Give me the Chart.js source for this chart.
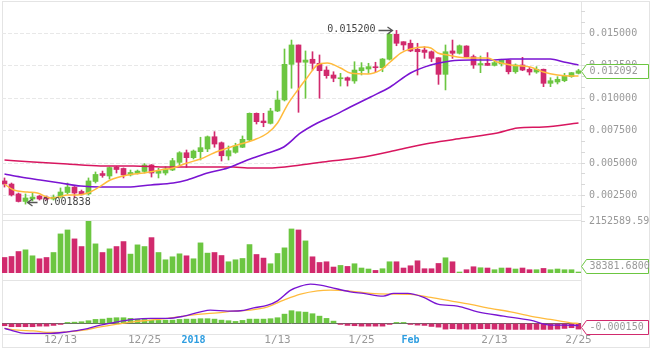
<!DOCTYPE html>
<html>
<head>
<meta charset="utf-8">
<script src="https://cdn.jsdelivr.net/npm/chart.js@4.4.1/dist/chart.umd.min.js"></script>
<style>
  html, body { margin: 0; padding: 0; background: #fff; }
  #wrap { position: relative; width: 659px; height: 350px; overflow: hidden; }
  canvas { position: absolute; left: 0; }
  .ln { position: absolute; background: #e4e4e4; }
</style>
</head>
<body>
<div id="wrap">
  <div class="ln" style="left:2px;top:1px;width:648px;height:1px"></div>
  <div class="ln" style="left:2px;top:1px;width:1px;height:347px"></div>
  <div class="ln" style="left:649px;top:1px;width:1px;height:347px"></div>
  <div class="ln" style="left:2px;top:347px;width:648px;height:1px"></div>
  <div class="ln" style="left:2px;top:214px;width:580px;height:1px"></div>
  <div class="ln" style="left:2px;top:220px;width:580px;height:1px"></div>
  <div class="ln" style="left:2px;top:280px;width:580px;height:1px"></div>
  <div class="ln" style="left:2px;top:334px;width:580px;height:1px"></div>
  <div class="ln" style="left:581px;top:1px;width:1px;height:334px"></div>
  <canvas id="mainChart" width="659" height="216" style="top:0px"></canvas>
  <canvas id="volChart" width="659" height="60" style="top:216px"></canvas>
  <canvas id="macdChart" width="659" height="74" style="top:276px"></canvas>
</div>
<script>
// daily candles, 12/5 .. 2/25
const opens = [
  0.00362, 0.00338, 0.00262, 0.00204, 0.00223, 0.00246, 0.00238, 0.00223, 0.00238, 0.00273,
  0.00315, 0.00281, 0.00262, 0.00358, 0.00419, 0.00400, 0.00469, 0.00458, 0.00408, 0.00421,
  0.00435, 0.00485, 0.00421, 0.00423, 0.00446, 0.00505, 0.00579, 0.00541, 0.00587, 0.00608,
  0.00702, 0.00656, 0.00554, 0.00582, 0.00621, 0.00677, 0.00882, 0.00823, 0.00805, 0.00900,
  0.00985, 0.01259, 0.01408, 0.01275, 0.01298, 0.01267, 0.01215, 0.01177, 0.01148, 0.01156,
  0.01131, 0.01210, 0.01223, 0.01238, 0.01233, 0.01298, 0.01490, 0.01433, 0.01421, 0.01375,
  0.01369, 0.01356, 0.01310, 0.01182, 0.01362, 0.01344, 0.01400, 0.01318, 0.01254, 0.01267,
  0.01251, 0.01262, 0.01292, 0.01202, 0.01254, 0.01221, 0.01200, 0.01221, 0.01113, 0.01123,
  0.01133, 0.01164, 0.01190
];
const closes = [
  0.00338, 0.00254, 0.00204, 0.00231, 0.00238, 0.00223, 0.00223, 0.00238, 0.00277, 0.00315,
  0.00269, 0.00262, 0.00362, 0.00412, 0.00404, 0.00465, 0.00450, 0.00408, 0.00427, 0.00438,
  0.00485, 0.00423, 0.00438, 0.00454, 0.00518, 0.00579, 0.00541, 0.00592, 0.00618, 0.00702,
  0.00646, 0.00556, 0.00595, 0.00631, 0.00682, 0.00882, 0.00818, 0.00810, 0.00900, 0.00985,
  0.01259, 0.01408, 0.01275, 0.01292, 0.01267, 0.01210, 0.01172, 0.01152, 0.01154, 0.01136,
  0.01215, 0.01233, 0.01241, 0.01233, 0.01300, 0.01490, 0.01421, 0.01408, 0.01362, 0.01356,
  0.01351, 0.01305, 0.01182, 0.01356, 0.01344, 0.01402, 0.01318, 0.01254, 0.01265, 0.01251,
  0.01272, 0.01292, 0.01202, 0.01254, 0.01215, 0.01200, 0.01221, 0.01113, 0.01133, 0.01144,
  0.01169, 0.01195, 0.012092
];
const highs = [
  0.00385, 0.00346, 0.00269, 0.00262, 0.00269, 0.00250, 0.00246, 0.00254, 0.00308, 0.00346,
  0.00319, 0.00292, 0.00385, 0.00431, 0.00438, 0.00469, 0.00473, 0.00462, 0.00446, 0.00446,
  0.00496, 0.00488, 0.00459, 0.00472, 0.00536, 0.00587, 0.00600, 0.00600, 0.00698, 0.00708,
  0.00741, 0.00662, 0.00631, 0.00652, 0.00708, 0.00885, 0.00885, 0.00882, 0.00921, 0.01054,
  0.01377, 0.01446, 0.01408, 0.01362, 0.01356, 0.01331, 0.01241, 0.01202, 0.01190, 0.01162,
  0.01279, 0.01272, 0.01267, 0.01275, 0.01304, 0.01498, 0.01520, 0.01433, 0.01446, 0.01421,
  0.01395, 0.01362, 0.01310, 0.01408, 0.01446, 0.01408, 0.01402, 0.01331, 0.01323, 0.01349,
  0.01292, 0.01298, 0.01296, 0.01262, 0.01313, 0.01236, 0.01241, 0.01223, 0.01156, 0.01164,
  0.01190, 0.01196, 0.01221
];
const lows = [
  0.00315, 0.00246, 0.00200, 0.001838, 0.00208, 0.00215, 0.00215, 0.00215, 0.00231, 0.00262,
  0.00231, 0.00254, 0.00254, 0.00346, 0.00390, 0.00377, 0.00423, 0.00385, 0.00400, 0.00415,
  0.00423, 0.00392, 0.00385, 0.00408, 0.00441, 0.00485, 0.00467, 0.00531, 0.00523, 0.00587,
  0.00621, 0.00515, 0.00523, 0.00575, 0.00618, 0.00672, 0.00800, 0.00779, 0.00800, 0.00895,
  0.00977, 0.01075, 0.00890, 0.00998, 0.01215, 0.00998, 0.01152, 0.01125, 0.01092, 0.01092,
  0.01113, 0.01177, 0.01190, 0.01202, 0.01202, 0.01292, 0.01402, 0.01369, 0.01356, 0.01177,
  0.01305, 0.01279, 0.01105, 0.01062, 0.01305, 0.01338, 0.01315, 0.01228, 0.01195, 0.01251,
  0.01246, 0.01246, 0.01185, 0.01190, 0.01210, 0.01177, 0.01190, 0.01087, 0.01087, 0.01108,
  0.01125, 0.01159, 0.01185
];
const volumes = [
  642000, 683000, 889000, 959000, 712000, 589000, 642000, 848000, 1618000, 1782000,
  1412000, 1095000, 2152589.59, 1206000, 848000, 1000000, 1095000, 1301000, 782000, 1165000,
  1095000, 1465000, 848000, 547000, 671000, 794000, 712000, 589000, 1247000, 823000,
  848000, 724000, 465000, 547000, 601000, 1177000, 766000, 617000, 383000, 807000,
  1041000, 1823000, 1782000, 1329000, 671000, 436000, 465000, 247000, 313000, 272000,
  383000, 206000, 165000, 107000, 177000, 465000, 465000, 206000, 300000, 506000,
  177000, 177000, 395000, 630000, 465000, 25000, 136000, 259000, 218000, 206000,
  136000, 206000, 206000, 165000, 206000, 136000, 136000, 189000, 136000, 165000,
  136000, 136000, 38381.68
];
const macdHist = [
  -0.000061, -0.000087, -0.000087, -0.000087, -0.000087, -0.000072, -0.000072, -0.000053, -0.000027, 0.000019,
  0.000034, 0.000045, 0.000072, 0.000106, 0.000114, 0.000140, 0.000151, 0.000151, 0.000133, 0.000114,
  0.000106, 0.000087, 0.000080, 0.000087, 0.000087, 0.000106, 0.000114, 0.000114, 0.000125, 0.000125,
  0.000114, 0.000087, 0.000072, 0.000053, 0.000080, 0.000114, 0.000114, 0.000114, 0.000125, 0.000151,
  0.000246, 0.000337, 0.000310, 0.000299, 0.000257, 0.000193, 0.000133, 0.000061, -0.000013, -0.000053,
  -0.000061, -0.000072, -0.000072, -0.000072, -0.000072, -0.000013, 0.000008, 0.000008, -0.000027, -0.000045,
  -0.000053, -0.000080, -0.000098, -0.000151, -0.000140, -0.000151, -0.000151, -0.000151, -0.000140, -0.000140,
  -0.000151, -0.000159, -0.000159, -0.000159, -0.000159, -0.000159, -0.000159, -0.000159, -0.000159, -0.000151,
  -0.000133, -0.000114, -0.000150
];

// moving averages: [day index, value]
const maFast = [
  [0, 0.00338], [1.3, 0.00292], [3.3, 0.00277], [4.7, 0.00269], [6.6, 0.00231], [7.7, 0.00238],
  [9, 0.00254], [10.4, 0.00254], [11.9, 0.00269], [13.3, 0.00308], [15.1, 0.00369], [17.6, 0.00408],
  [19.9, 0.00423], [22.3, 0.00446], [24.1, 0.00462], [26.1, 0.005], [28, 0.00531], [29.9, 0.00577],
  [31.9, 0.00615], [33.7, 0.00646], [35.6, 0.00677], [37.6, 0.00731], [39, 0.00808], [40.4, 0.00946],
  [41.9, 0.01062], [43.3, 0.01162], [44.7, 0.01254], [46.1, 0.01269], [48, 0.01231], [49.4, 0.01192],
  [51.9, 0.01185], [53.7, 0.01215], [55.1, 0.01277], [56.6, 0.01346], [58, 0.01377], [59.9, 0.01392],
  [60.9, 0.01385], [61.9, 0.01346], [63.3, 0.01331], [64.7, 0.01315], [66.6, 0.01308], [69, 0.01308],
  [70.4, 0.01277], [72.3, 0.01254], [75.1, 0.01238], [77, 0.012], [79, 0.01177], [80.9, 0.01169], [82, 0.01169]
];
const maMid = [
  [0, 0.00415], [2.3, 0.00392], [5.1, 0.00369], [8, 0.00346], [10.9, 0.00323], [13.7, 0.00315],
  [17.6, 0.00315], [20.9, 0.00331], [24.1, 0.00346], [26.1, 0.00369], [29, 0.00423], [31.9, 0.00462],
  [34.7, 0.00523], [37.6, 0.00577], [39.9, 0.00623], [42.3, 0.00731], [44.7, 0.00808], [46.6, 0.00854],
  [49.4, 0.00931], [52.3, 0.01008], [55.1, 0.01085], [58, 0.01192], [60.9, 0.01254], [63.7, 0.01285],
  [66.6, 0.01292], [69.4, 0.01292], [72.3, 0.013], [75.1, 0.013], [78, 0.013], [79.9, 0.01277], [82, 0.01254]
];
const maSlow = [
  [0, 0.00523], [4.1, 0.00508], [9, 0.00492], [13.7, 0.00477], [18.4, 0.00477], [23.3, 0.00469],
  [28, 0.00469], [32.7, 0.00469], [34.7, 0.00462], [37.6, 0.00462], [42.3, 0.00485], [46.6, 0.00515],
  [51.3, 0.00546], [56.1, 0.006], [60.9, 0.00654], [65.6, 0.00692], [70.4, 0.00731], [73.3, 0.00769],
  [77, 0.00777], [82, 0.00808]
];
const macdDif = [
  [0, -0.000133], [0.9, -0.000178], [2.3, -0.000249], [4.1, -0.000265], [6.6, -0.000265], [9, -0.000223],
  [11.3, -0.000159], [13.7, -0.000045], [16.1, 0.000042], [18.4, 0.000106], [20.9, 0.000133], [23.3, 0.000133],
  [25.6, 0.000193], [28, 0.000307], [29.4, 0.000352], [31.9, 0.000326], [33.7, 0.000334], [35.6, 0.000413],
  [37.6, 0.000485], [39, 0.000599], [40.9, 0.000882], [42.3, 0.000988], [43.7, 0.001041], [45.1, 0.001015],
  [46.6, 0.000954], [49.4, 0.000837], [51.3, 0.000795], [54.1, 0.000723], [55.6, 0.000795], [57.6, 0.000795],
  [59.9, 0.000689], [61.9, 0.000511], [64.7, 0.000458], [67.6, 0.000307], [71.3, 0.000193], [75.1, 0.000087],
  [78, -0.000045], [79.9, -0.000045], [82, -0.000053]
];
const macdDea = [
  [0, -0.000133], [1.9, -0.000178], [4.1, -0.000196], [6.6, -0.000239], [9, -0.000223], [11.3, -0.000178],
  [13.7, -0.00009], [16.1, -0.000019], [18.4, 0.000042], [20.9, 0.000087], [23.3, 0.000133], [25.6, 0.000193],
  [28, 0.000246], [30.4, 0.000281], [32.7, 0.000326], [35.1, 0.000352], [37.6, 0.00044], [39.9, 0.000617],
  [42.3, 0.000776], [44.7, 0.000864], [46.6, 0.000882], [49.4, 0.000856], [52.3, 0.000795], [55.1, 0.000776],
  [58, 0.000769], [60.9, 0.000689], [63.7, 0.000599], [66.6, 0.000504], [69.4, 0.000398], [72.3, 0.000307],
  [75.1, 0.000193], [78, 0.000106], [80.9, 0.000016], [82, 0]
];

const priceTicks = [0.0025, 0.005, 0.0075, 0.01, 0.0125, 0.015];
const dateTickIdx = [8, 20, 27, 39, 51, 58, 70, 82];
const dateLabels = ['12/13', '12/25', '2018', '1/13', '1/25', 'Feb', '2/13', '2/25'];
const highlightLabels = ['2018', 'Feb'];

const GREEN = '#6cc641';
const RED = '#d12a6d';
const YELLOW = '#ffbb3d';
const PURPLE = '#7a14d2';
const CRIMSON = '#d8165f';
const MONO = '"DejaVu Sans Mono", monospace';

Chart.defaults.font.family = MONO;
Chart.defaults.font.size = 10;

const X_MIN = -2.5 / 7;
const X_MAX = X_MIN + 579 / 7;
const AXIS_W = 78;

const dayIdx = opens.map((_, i) => i);
const candleColors = dayIdx.map((i) => (closes[i] >= opens[i] ? GREEN : RED));
const toPoints = (pairs) => pairs.map(([x, y]) => ({ x, y }));

const hiddenX = { type: 'linear', min: X_MIN, max: X_MAX, offset: false, display: false };
const baseOptions = {
  responsive: false,
  animation: false,
  devicePixelRatio: 1,
  plugins: { legend: { display: false }, tooltip: { enabled: false } },
};

// right-hand axis of fixed width, no extra label padding above/below
function fitRightAxis(scale) {
  scale.width = AXIS_W;
  scale.paddingTop = 0;
  scale.paddingBottom = 0;
}

function lineSet(pairs, color, width) {
  return {
    type: 'line',
    data: toPoints(pairs),
    borderColor: color,
    borderWidth: width,
    pointRadius: 0,
    cubicInterpolationMode: 'monotone',
    order: 0,
  };
}

function valueTag(id, getValue, getText, color) {
  return {
    id,
    afterDraw(chart) {
      const { ctx, chartArea, scales } = chart;
      let y = scales.y.getPixelForValue(getValue());
      y = Math.min(Math.max(y, chartArea.top + 7), chartArea.bottom - 7);
      y = Math.round(y) + 0.5;
      const x0 = chartArea.right + 0.5;
      const x1 = x0 + 5;
      const x2 = 648.5;
      const h = 7;
      ctx.save();
      ctx.beginPath();
      ctx.moveTo(x0, y);
      ctx.lineTo(x1, y - h);
      ctx.lineTo(x2, y - h);
      ctx.lineTo(x2, y + h);
      ctx.lineTo(x1, y + h);
      ctx.closePath();
      ctx.fillStyle = '#fff';
      ctx.fill();
      ctx.strokeStyle = color;
      ctx.lineWidth = 1;
      ctx.stroke();
      ctx.fillStyle = '#999';
      ctx.font = '10px ' + MONO;
      ctx.textBaseline = 'middle';
      ctx.fillText(getText(), x1 + 3, y);
      ctx.restore();
    },
  };
}

function drawArrow(ctx, tail, tip, y) {
  const dir = tip > tail ? 1 : -1;
  ctx.beginPath();
  ctx.moveTo(tail, y);
  ctx.lineTo(tip, y);
  ctx.moveTo(tip - dir * 5, y - 3.5);
  ctx.lineTo(tip, y);
  ctx.lineTo(tip - dir * 5, y + 3.5);
  ctx.stroke();
}

const extremeLabels = {
  id: 'extremeLabels',
  afterDatasetsDraw(chart) {
    const { ctx, scales: { x, y } } = chart;
    const hiI = highs.indexOf(Math.max(...highs));
    const loI = lows.indexOf(Math.min(...lows));
    ctx.save();
    ctx.font = '10px ' + MONO;
    ctx.fillStyle = '#444';
    ctx.strokeStyle = '#555';
    ctx.lineWidth = 1.3;
    ctx.textBaseline = 'middle';

    let px = x.getPixelForValue(hiI);
    let py = Math.round(y.getPixelForValue(highs[hiI])) + 0.5;
    drawArrow(ctx, px - 18, px - 4, py);
    ctx.textAlign = 'right';
    ctx.fillText(highs[hiI].toFixed(6), px - 21, py - 1);

    px = x.getPixelForValue(loI);
    py = Math.round(y.getPixelForValue(lows[loI])) - 1.5;
    drawArrow(ctx, px + 12, px + 2, py);
    ctx.textAlign = 'left';
    ctx.fillText(lows[loI].toFixed(6), px + 17, py);
    ctx.restore();
  },
};

// ---- price panel ----
const P_MIN = 0.001077;
const P_MAX = 0.017462;
const minorStep = 0.0025 / 3;
const isMajor = (v) => priceTicks.some((t) => Math.abs(t - v) < 1e-9);

new Chart(document.getElementById('mainChart'), {
  type: 'bar',
  data: {
    datasets: [
      lineSet(maFast, YELLOW, 1.5),
      lineSet(maMid, PURPLE, 1.6),
      lineSet(maSlow, CRIMSON, 1.5),
      {
        data: dayIdx.map((i) => ({ x: i, y: [opens[i], closes[i]] })),
        backgroundColor: candleColors,
        barThickness: 5,
        minBarLength: 1,
        grouped: false,
        order: 1,
      },
      {
        data: dayIdx.map((i) => ({ x: i, y: [lows[i], highs[i]] })),
        backgroundColor: candleColors,
        barThickness: 1,
        grouped: false,
        order: 2,
      },
    ],
  },
  options: {
    ...baseOptions,
    layout: { padding: { left: 2, top: 1, right: 0, bottom: 2 } },
    scales: {
      x: hiddenX,
      y: {
        position: 'right',
        min: P_MIN,
        max: P_MAX,
        afterFit: fitRightAxis,
        afterBuildTicks: (scale) => {
          const ticks = [];
          for (let k = Math.ceil(P_MIN / minorStep); k * minorStep <= P_MAX; k++) {
            ticks.push({ value: k * minorStep });
          }
          scale.ticks = ticks;
        },
        ticks: {
          autoSkip: false,
          padding: 4,
          color: '#999',
          callback: (v) => (isMajor(v) ? v.toFixed(6) : ''),
        },
        grid: {
          color: (ctx) => (ctx.tick && isMajor(ctx.tick.value) ? '#e8e8e8' : 'rgba(0,0,0,0)'),
          tickColor: '#d8d8d8',
          tickLength: 4,
        },
        border: { display: false, dash: [4, 2] },
      },
    },
  },
  plugins: [
    extremeLabels,
    valueTag('priceTag', () => closes[closes.length - 1], () => closes[closes.length - 1].toFixed(6), candleColors[candleColors.length - 1]),
  ],
});

// ---- volume panel ----
const volMax = Math.max(...volumes);
new Chart(document.getElementById('volChart'), {
  type: 'bar',
  data: {
    datasets: [{
      data: dayIdx.map((i) => ({ x: i, y: volumes[i] })),
      backgroundColor: candleColors,
      barThickness: 5,
      minBarLength: 1,
    }],
  },
  options: {
    ...baseOptions,
    layout: { padding: { left: 2, top: 5, right: 0, bottom: 3 } },
    scales: {
      x: hiddenX,
      y: {
        position: 'right',
        min: 0,
        max: volMax,
        afterFit: fitRightAxis,
        afterBuildTicks: (scale) => { scale.ticks = [{ value: volMax }]; },
        ticks: { autoSkip: false, padding: 4, color: '#999', callback: (v) => v.toFixed(2) },
        grid: { color: 'rgba(0,0,0,0)', tickColor: '#d8d8d8', tickLength: 4 },
        border: { display: false },
      },
    },
  },
  plugins: [
    valueTag('volTag', () => volumes[volumes.length - 1], () => volumes[volumes.length - 1].toFixed(4), candleColors[candleColors.length - 1]),
  ],
});

// ---- MACD panel ----
new Chart(document.getElementById('macdChart'), {
  type: 'bar',
  data: {
    datasets: [
      lineSet(macdDif, PURPLE, 1.4),
      lineSet(macdDea, YELLOW, 1.3),
      {
        data: dayIdx.map((i) => ({ x: i, y: macdHist[i] })),
        backgroundColor: macdHist.map((v) => (v >= 0 ? GREEN : RED)),
        barThickness: 5,
        minBarLength: 1,
        order: 1,
      },
    ],
  },
  options: {
    ...baseOptions,
    layout: { padding: { left: 2, top: 4, right: 0, bottom: 0 } },
    scales: {
      x: {
        type: 'linear',
        min: X_MIN,
        max: X_MAX,
        offset: false,
        afterFit: (scale) => { scale.height = 16; },
        afterBuildTicks: (scale) => { scale.ticks = dateTickIdx.map((v) => ({ value: v })); },
        ticks: {
          autoSkip: false,
          maxRotation: 0,
          minRotation: 0,
          padding: 0,
          callback: (v, i) => dateLabels[i],
          color: (ctx) => (highlightLabels.includes(dateLabels[ctx.index]) ? '#2d9de0' : '#999'),
          font: (ctx) => ({
            family: MONO,
            size: highlightLabels.includes(dateLabels[ctx.index]) ? 10 : 11,
            weight: highlightLabels.includes(dateLabels[ctx.index]) ? 'bold' : 'normal',
          }),
        },
        grid: { display: false, drawTicks: false, tickLength: 0, offset: false },
        border: { display: false },
      },
      y: {
        position: 'right',
        min: -0.00028,
        max: 0.00115,
        afterFit: fitRightAxis,
        afterBuildTicks: (scale) => { scale.ticks = [{ value: 0 }]; },
        ticks: { callback: () => '' },
        grid: { color: '#666', lineWidth: 1, drawTicks: false },
        border: { display: false },
      },
    },
  },
  plugins: [
    valueTag('macdTag', () => macdHist[macdHist.length - 1], () => macdHist[macdHist.length - 1].toFixed(6), macdHist[macdHist.length - 1] >= 0 ? GREEN : RED),
  ],
});
</script>
</body>
</html>
